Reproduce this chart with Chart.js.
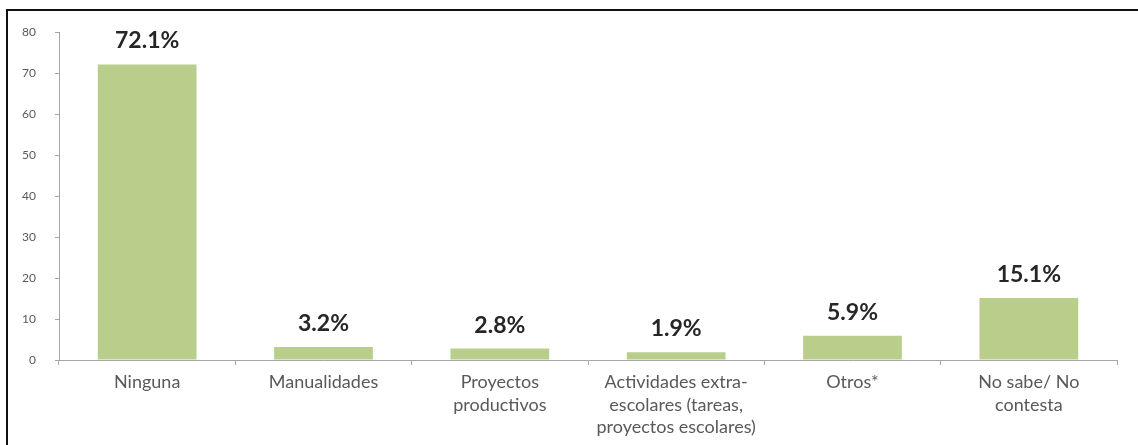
<!DOCTYPE html>
<html>
<head>
<meta charset="utf-8">
<script src="https://cdn.jsdelivr.net/npm/chart.js@4"></script>
<style>
  body { margin: 0; background: #fff; overflow: hidden; }
  #marco { position: absolute; left: 0; top: 0; width: 1138px; height: 445px; }
  #borde { position: absolute; left: 6px; top: 9px; width: 1200px; height: 500px;
           border-top: 2px solid #111; border-left: 2px solid #111; }
  canvas { position: absolute; left: 0; top: 0; }
</style>
</head>
<body>
<div id="marco">
  <div id="borde"></div>
  <canvas id="grafico" width="1138" height="445"></canvas>
</div>
<script>
// Datos
let categorias = [
    "Ninguna",
    "Manualidades",
    ["Proyectos", "productivos"],
    ["Actividades extra-", "escolares (tareas,", "proyectos escolares)"],
    "Otros*",
    ["No sabe/ No", "contesta"]
];
let porcentajes = [72.1, 3.2, 2.8, 1.9, 5.9, 15.1];
let ticksY = [0, 10, 20, 30, 40, 50, 60, 70, 80];

// Etiquetas de valor sobre cada barra
const etiquetasValor = {
    id: "etiquetasValor",
    afterDatasetsDraw(chart) {
        let ctx = chart.ctx;
        let meta = chart.getDatasetMeta(0);
        ctx.save();
        ctx.font = "bold 23px Lato, 'DejaVu Sans', sans-serif";
        ctx.fillStyle = "#262626";
        ctx.textAlign = "center";
        ctx.textBaseline = "alphabetic";
        meta.data.forEach((barra, i) => {
            ctx.fillText(porcentajes[i].toFixed(1) + "%", barra.x, barra.y - 16);
        });
        ctx.restore();
    }
};

new Chart(document.getElementById("grafico").getContext("2d"), {
    type: "bar",
    data: {
        labels: categorias,
        datasets: [{
            data: porcentajes,
            backgroundColor: "rgb(186, 206, 140)",
            borderWidth: 0,
            barPercentage: 0.56,
            categoryPercentage: 1
        }]
    },
    options: {
        responsive: false,
        animation: false,
        layout: { padding: { top: 32, right: 21, left: 0, bottom: 0 } },
        plugins: {
            legend: { display: false },
            tooltip: { enabled: false }
        },
        scales: {
            x: {
                offset: true,
                grid: {
                    offset: true,
                    drawOnChartArea: false,
                    drawTicks: true,
                    tickLength: 5,
                    color: "#a6a6a6"
                },
                border: { color: "#a6a6a6", width: 1 },
                ticks: {
                    color: "#595959",
                    font: { family: "Lato, 'DejaVu Sans', sans-serif", size: 18, lineHeight: 1.25 },
                    maxRotation: 0,
                    autoSkip: false,
                    padding: 6
                },
                afterFit(scale) { scale.height = 85; }
            },
            y: {
                min: 0,
                max: 80,
                afterBuildTicks(scale) {
                    scale.ticks = ticksY.map(v => ({ value: v }));
                },
                grid: {
                    drawOnChartArea: false,
                    drawTicks: true,
                    tickLength: 4,
                    color: "#a6a6a6"
                },
                border: { color: "#a6a6a6", width: 1 },
                ticks: {
                    color: "#595959",
                    font: { family: "Lato, 'DejaVu Sans', sans-serif", size: 12 },
                    padding: 19
                },
                afterFit(scale) { scale.width = 59; }
            }
        }
    },
    plugins: [etiquetasValor]
});
</script>
</body>
</html>
